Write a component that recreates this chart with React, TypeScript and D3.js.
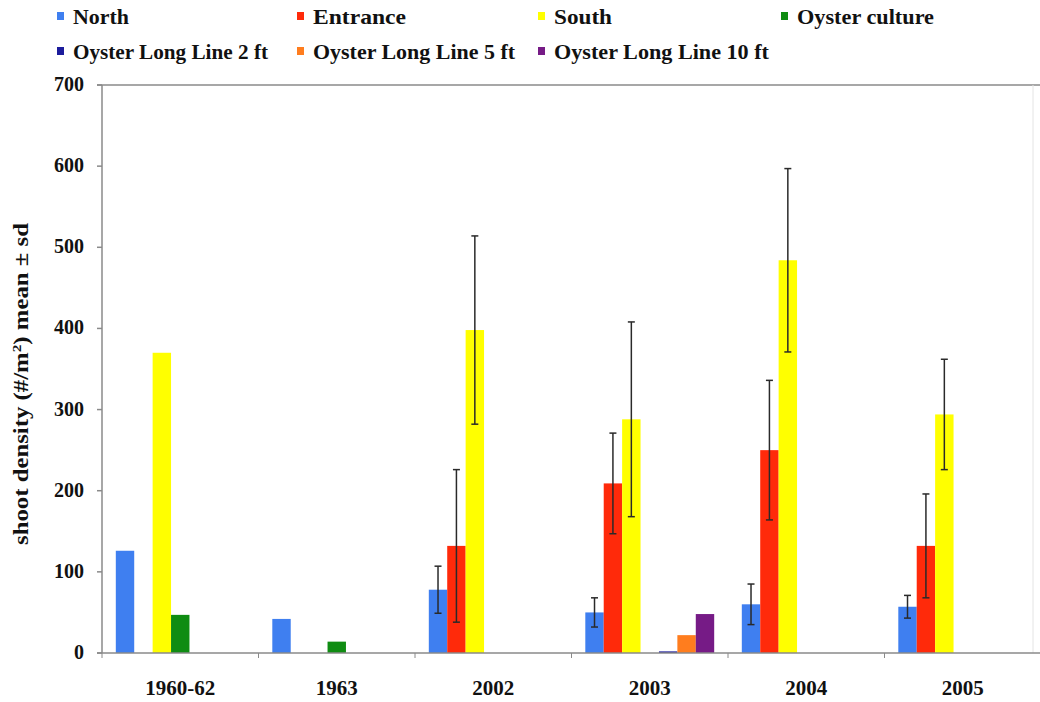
import React from "react";
import * as d3 from "d3";

const categories = ["1960-62", "1963", "2002", "2003", "2004", "2005"];
const seriesNames = [
  "North",
  "Entrance",
  "South",
  "Oyster culture",
  "Oyster Long Line 2 ft",
  "Oyster Long Line 5 ft",
  "Oyster Long Line 10 ft",
];
const seriesColors = ["#3f7ff0", "#ff2a0a", "#ffff00", "#0f8c12", "#1c1c9c", "#ff7d1e", "#761b86"];

const north = [126, 42, 78, 50, 60, 57];
const northSd = [null, null, 29, 18, 25, 14];
const entrance = [null, null, 132, 209, 250, 132];
const entranceSd = [null, null, 94, 62, 86, 64];
const south = [370, null, 398, 288, 484, 294];
const southSd = [null, null, 116, 120, 113, 68];
const oysterCulture = [47, 14, null, null, null, null];
const longLine2 = [null, null, null, 2, null, null];
const longLine5 = [null, null, null, 22, null, null];
const longLine10 = [null, null, null, 48, null, null];

const yTicks = [0, 100, 200, 300, 400, 500, 600, 700];

const seriesValues = [north, entrance, south, oysterCulture, longLine2, longLine5, longLine10];
const seriesSd = [northSd, entranceSd, southSd, null, null, null, null];

// legend layout (row, column)
const legendRow = [0, 0, 0, 0, 1, 1, 1];
const legendCol = [0, 1, 2, 3, 0, 1, 2];
const legendLen = [56, 93, 58, 137, 195, 202, 215];

const FONT_STYLE = { fontFamily: '"Liberation Serif", "Times New Roman", Times, serif', fontWeight: 700 };

export default function App() {
  const W = 1040;
  const H = 702;
  const x0 = d3.scaleBand<string>().domain(categories).range([102, 1041]).padding(0);
  const x1 = d3
    .scaleBand<string>()
    .domain(seriesNames)
    .range([0, x0.bandwidth()])
    .paddingInner(0)
    .paddingOuter(0.75);
  const y = d3.scaleLinear().domain([0, 700]).range([653, 85]);

  const colX = [57, 297, 538, 781];
  const rowY = [12, 47];

  const bars: React.ReactNode[] = [];
  const errs: React.ReactNode[] = [];
  seriesValues.forEach((vals, si) => {
    vals.forEach((v, ci) => {
      if (v == null) return;
      const bx = (x0(categories[ci]) as number) + (x1(seriesNames[si]) as number);
      const bw = x1.bandwidth();
      bars.push(
        <rect
          key={`b${si}-${ci}`}
          x={bx}
          y={y(v)}
          width={bw}
          height={y(0) - y(v)}
          fill={seriesColors[si]}
        />
      );
      const sdArr = seriesSd[si];
      const sd = sdArr ? sdArr[ci] : null;
      if (sd != null) {
        const cx = bx + bw / 2;
        const top = y(v + sd);
        const bot = y(v - sd);
        errs.push(
          <g key={`e${si}-${ci}`} stroke="#2a2a2a" strokeWidth={1.5}>
            <line x1={cx} x2={cx} y1={top} y2={bot} />
            <line x1={cx - 3.5} x2={cx + 3.5} y1={top} y2={top} />
            <line x1={cx - 3.5} x2={cx + 3.5} y1={bot} y2={bot} />
          </g>
        );
      }
    });
  });

  return (
    <svg
      width={W}
      height={H}
      style={{ position: "absolute", left: 0, top: 0, background: "#fff" }}
    >
      {/* legend */}
      {seriesNames.map((name, i) => (
        <g key={name}>
          <rect x={colX[legendCol[i]]} y={rowY[legendRow[i]]} width={7} height={8} fill={seriesColors[i]} />
          <text
            x={colX[legendCol[i]] + 16}
            y={rowY[legendRow[i]] + 12}
            fontSize={21}
            fill="#111"
            style={FONT_STYLE}
            textLength={legendLen[i]}
            lengthAdjust="spacingAndGlyphs"
          >
            {name}
          </text>
        </g>
      ))}

      {/* plot frame */}
      <line x1={97} x2={1040} y1={85} y2={85} stroke="#8a8a8a" strokeWidth={1.5} />
      <line x1={1033} x2={1033} y1={85} y2={653} stroke="#e4e4e4" strokeWidth={1} />
      <line x1={102} x2={102} y1={85} y2={653} stroke="#8a8a8a" strokeWidth={1.5} />

      {/* y ticks */}
      {yTicks.map((t) => (
        <g key={t}>
          <line x1={97} x2={102} y1={y(t)} y2={y(t)} stroke="#8a8a8a" strokeWidth={1.5} />
          <text x={84} y={y(t) + 6} fontSize={20} textAnchor="end" fill="#111" style={FONT_STYLE}>
            {t}
          </text>
        </g>
      ))}

      {/* y title */}
      <text
        transform={`translate(28, 384) rotate(-90)`}
        fontSize={21}
        textAnchor="middle"
        fill="#111"
        style={FONT_STYLE}
        textLength={322}
        lengthAdjust="spacingAndGlyphs"
      >
        shoot density (#/m<tspan dy={-7} fontSize={13}>2</tspan>
        <tspan dy={7}>) mean ± sd</tspan>
      </text>

      {bars}
      {errs}

      {/* x axis */}
      <line x1={97} x2={1040} y1={653} y2={653} stroke="#8a8a8a" strokeWidth={1.5} />
      {categories.map((c) => (
        <line
          key={`t${c}`}
          x1={x0(c) as number}
          x2={x0(c) as number}
          y1={653}
          y2={658}
          stroke="#8a8a8a"
          strokeWidth={1}
        />
      ))}
      {categories.map((c) => (
        <text
          key={`l${c}`}
          x={(x0(c) as number) + x0.bandwidth() / 2}
          y={695}
          fontSize={21}
          textAnchor="middle"
          fill="#111"
          style={FONT_STYLE}
        >
          {c}
        </text>
      ))}
    </svg>
  );
}
